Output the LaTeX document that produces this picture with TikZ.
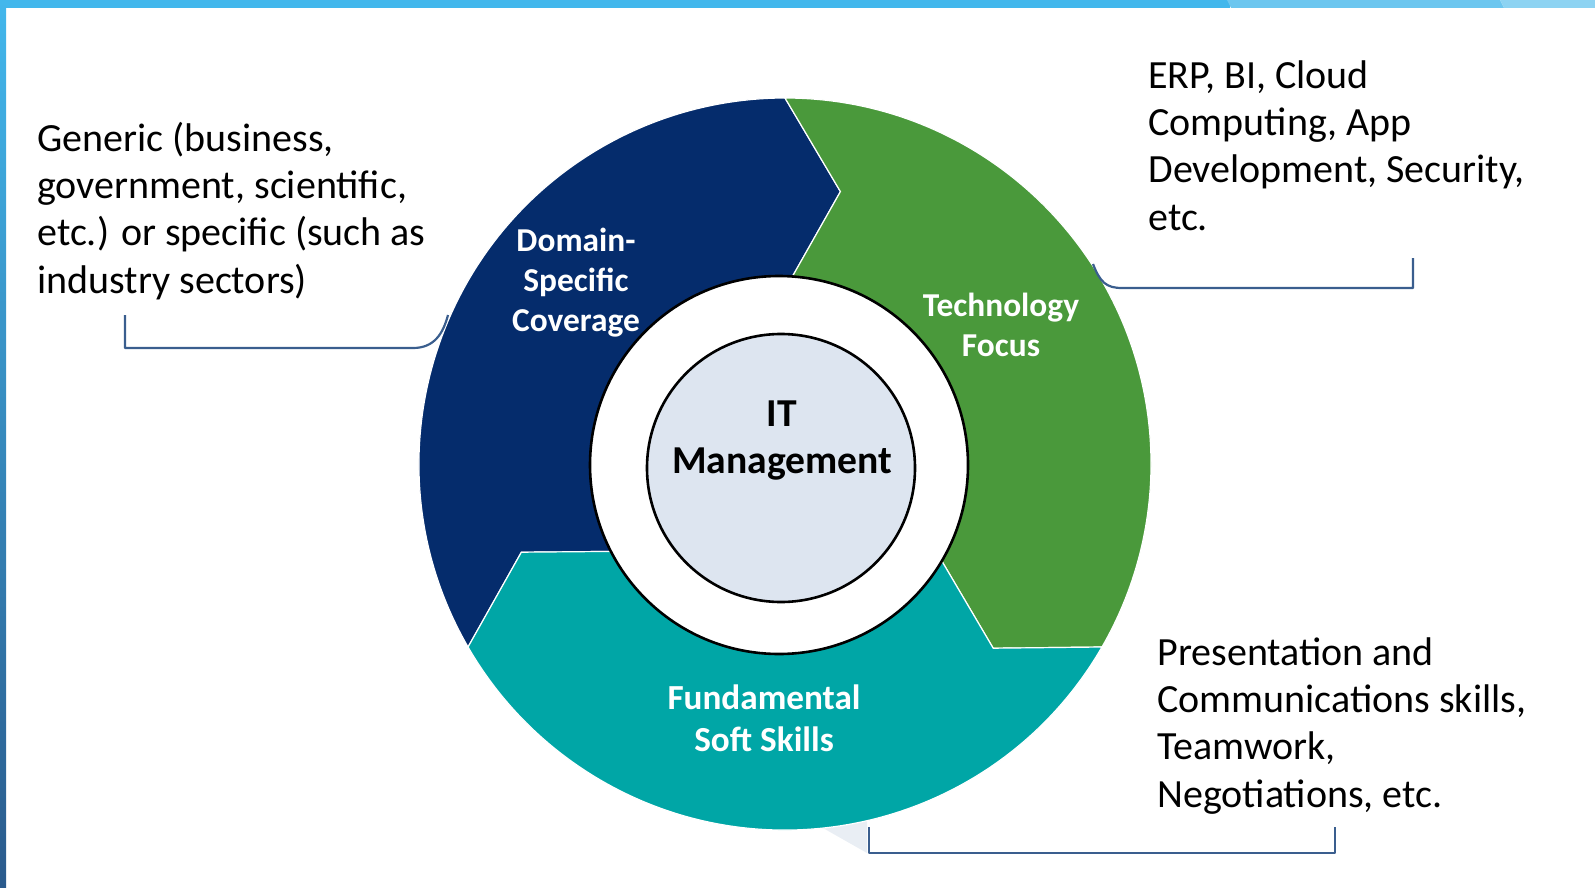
\documentclass[tikz,border=0pt]{standalone}
\usepackage{fontspec}
\setmainfont{Carlito}
\usepackage{tikz}
\usetikzlibrary{positioning, calc}
\definecolor{barblue}{HTML}{42B7EC}
\definecolor{barlight}{HTML}{6CC6EF}
\definecolor{barpale}{HTML}{8DD3F2}
\definecolor{stripdark}{HTML}{2A5A8C}
\definecolor{navyseg}{HTML}{052C6C}
\definecolor{greenseg}{HTML}{4A993B}
\definecolor{tealseg}{HTML}{00A6A6}
\definecolor{corefill}{HTML}{DDE5F0}
\definecolor{bracketblue}{HTML}{3A5E8E}
\definecolor{shadowfill}{HTML}{E9EEF4}
\tikzset{
    sidetext/.style={anchor=base west, align=left, inner sep=0pt, font=\fontsize{20}{23.6}\selectfont}, % text beside the ring
    seglabel/.style={anchor=base, align=center, inner sep=0pt, text=white, font=\bfseries\fontsize{16.7}{19.8}\selectfont}, % text on a segment
    bracket/.style={draw=bracketblue, line width=1.1pt, line join=round}, % the connectors
    ringline/.style={draw=black, line width=1.3pt}, % outlines of the inner circles
}

\begin{document}
\begin{tikzpicture}[x=0.5pt, y=0.5pt, yscale=-1]
    \useasboundingbox (0,0) rectangle (1595,888);
    % frame
    \fill[barblue] (0,0) rectangle (1230,8);
    \fill[barlight] (1227,0) -- (1500,0) -- (1504,8) -- (1231,8) -- cycle;
    \fill[barpale] (1500,0) -- (1595,0) -- (1595,8) -- (1504,8) -- cycle;
    \shade[top color=barblue, bottom color=stripdark] (0,0) rectangle (6,888);
    \fill[shadowfill] (800,815) -- (867,815) -- (867,853) -- cycle;
    % ring of three arrows
    \coordinate (C) at (785,464);
    \begin{scope}[shift={(C)}]
      \foreach \a/\col in {150/navyseg, 270/greenseg, 30/tealseg}
        \filldraw[fill=\col, draw=white, line width=0.6pt]
          (\a:366) arc[start angle=\a, end angle=\a+120, radius=366]
          -- ({\a+131.5}:278) -- ({\a+121}:180)
          arc[start angle=\a+121, end angle=\a+1, radius=180]
          -- ({\a+11.5}:278) -- cycle;
    \end{scope}
    \coordinate (W) at (779,465);
    \filldraw[fill=white, ringline] (W) circle[radius=189];
    \coordinate (K) at (781,468);
    \filldraw[fill=corefill, ringline] (K) circle[radius=134];
    % labels (base = last line)
    \node[seglabel] (domain) at (576,331) {Domain-\\Specific\\Coverage};
    \node[seglabel] (tech) at (1001,356) {Technology\\Focus};
    \node[seglabel, font=\bfseries\fontsize{17.6}{21}\selectfont] (soft) at (764,751) {Fundamental\\Soft Skills};
    \node[anchor=base, align=center, inner sep=0pt, font=\bfseries\fontsize{19.8}{23.5}\selectfont] (core) at (782,473) {IT\\Management};
    \node[sidetext] (generic) at (37,293) {Generic (business,\\government, scientific,\\etc.) or specific (such as\\industry sectors)};
    \node[sidetext] (erp) at (1148,230) {ERP, BI, Cloud\\Computing, App\\Development, Security,\\etc.};
    \node[sidetext] (skills) at (1157,807) {Presentation and\\Communications skills,\\Teamwork,\\Negotiations, etc.};
    % brackets
    \coordinate (generic-top) at (125,315);
    \coordinate (generic-ring) at (448,315);
    \draw[bracket] (generic-top) |- (413,348) .. controls (434,348) and (443,334) .. (generic-ring);
    \coordinate (erp-ring) at (1093,264);
    \coordinate (erp-top) at (1413,258);
    \draw[bracket] (erp-ring) .. controls (1100,282) and (1106,288) .. (1122,288) -| (erp-top);
    \coordinate (skills-left) at (869,827);
    \coordinate (skills-right) at (1335,827);
    \draw[bracket] (skills-left) -- (869,853) -| (skills-right);
\end{tikzpicture}
\end{document}
